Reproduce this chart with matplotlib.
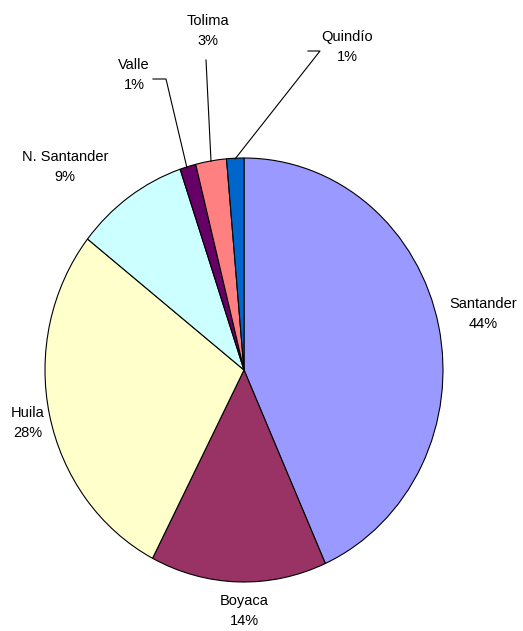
import matplotlib.pyplot as plt
from matplotlib.lines import Line2D

plt.rcParams['font.family'] = ['Liberation Sans', 'DejaVu Sans']

# data
departamentos = ['Santander', 'Boyaca', 'Huila', 'N. Santander', 'Valle', 'Tolima', 'Quindío']
valores = [43.3, 14.3, 28.0, 9.2, 1.3, 2.5, 1.4]
etiquetas_pct = ['44%', '14%', '28%', '9%', '1%', '3%', '1%']
colores = ['#9999FF', '#993366', '#FFFFCC', '#CCFFFF', '#660066', '#FF8080', '#0066CC']

W, H = 523, 631
fig = plt.figure(figsize=(W / 100, H / 100), dpi=100)


def fx(x, y):
    # pixel -> figure fraction
    return x / W, 1 - y / H


# axes sized to the (slightly tall) pie ellipse
ax = fig.add_axes([45 / W, (H - 582) / H, 398 / W, 424 / H])
ax.pie(valores, colors=colores, startangle=90, counterclock=False,
       wedgeprops=dict(edgecolor='black', linewidth=0.8))
ax.set_aspect('auto')
ax.set_xlim(-1, 1)
ax.set_ylim(-1, 1)
ax.axis('off')

# label positions (pixels, centre of text block)
pos = [(483, 314), (244, 611), (28, 423), (65, 167), (134, 75), (208, 31), (347, 47)]
for nombre, pct, (x, y) in zip(departamentos, etiquetas_pct, pos):
    fig.text(*fx(x, y), nombre + '\n' + pct, ha='center', va='center',
             fontsize=10.5, linespacing=1.5, color='black')

# leader lines for the small slices
lineas = [
    [(153, 79), (166, 79), (187, 168)],
    [(206, 60), (211, 161)],
    [(308, 51), (320, 51), (235, 159)],
]
for pts in lineas:
    xs = [fx(x, y)[0] for x, y in pts]
    ys = [fx(x, y)[1] for x, y in pts]
    fig.add_artist(Line2D(xs, ys, color='black', linewidth=0.8, transform=fig.transFigure))

fig.savefig('out.png', dpi=100, facecolor='white')
